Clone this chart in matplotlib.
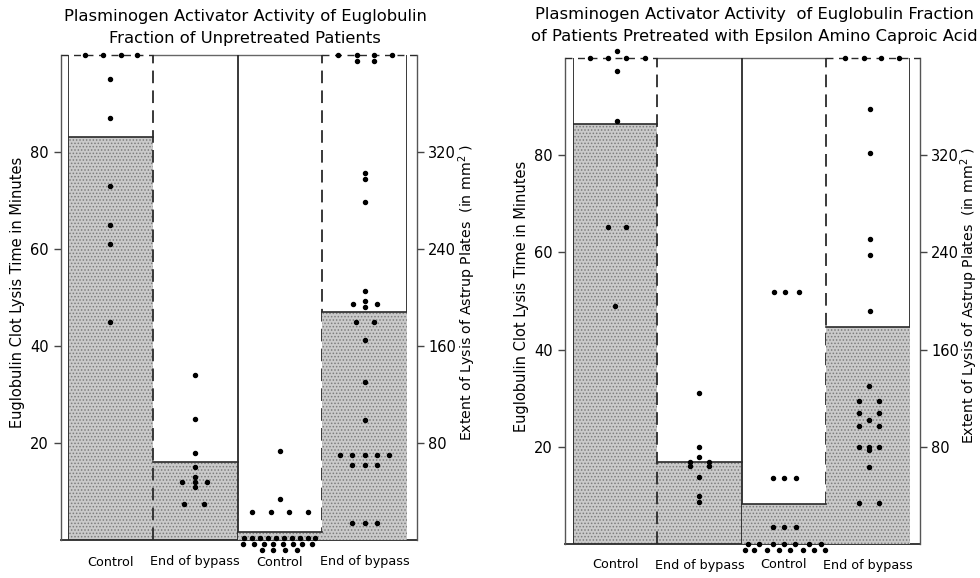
import matplotlib
matplotlib.use("Agg")
import matplotlib.pyplot as plt

plt.rcParams['font.family'] = ['DejaVu Sans']
plt.rcParams['hatch.linewidth'] = 0.7

# ---- data -------------------------------------------------------------
group_labels = ["Control", "End of bypass", "Control", "End of bypass"]

# left panel: unpretreated patients
left_title = ["Plasminogen Activator Activity of Euglobulin",
              "Fraction of Unpretreated Patients"]
left_lysis_time_means = [83, 16]          # minutes (left axis)
left_lysis_area_means = [6.6, 188]        # mm^2 (right axis)

left_ctrl_time_x = [-0.30, -0.09, 0.13, 0.32, 0.0, 0.0, 0.0, 0.0, 0.0, 0.0]
left_ctrl_time_y = [100, 100, 100, 100, 95, 87, 73, 65, 61, 45]
left_eob_time_x = [0.0, 0.0, 0.0, 0.0, 0.0, -0.15, 0.0, 0.14, 0.0, -0.13, 0.1]
left_eob_time_y = [34, 25, 18, 15, 13, 12, 12, 12, 11, 7.5, 7.5]
left_ctrl_area_x = [0.0, 0.0, -0.33, -0.11, 0.11, 0.33,
                    -0.42, -0.33, -0.24, -0.14, -0.05, 0.05, 0.14, 0.24, 0.33, 0.42,
                    -0.43, -0.30, -0.19, -0.08, 0.04, 0.15, 0.26, 0.38,
                    -0.21, -0.08, 0.06, 0.20]
left_ctrl_area_y = [73, 34, 23, 23, 23, 23,
                    2, 2, 2, 2, 2, 2, 2, 2, 2, 2,
                    -3, -3, -3, -3, -3, -3, -3, -3,
                    -8, -8, -8, -8]
left_eob_area_x = [-0.31, -0.09, -0.09, 0.11, 0.11, 0.32,
                   0.0, 0.0, 0.0, 0.0, -0.14, 0.0, 0.0, 0.15, -0.10, 0.11,
                   0.0, 0.0, 0.0, -0.29, -0.15, 0.0, 0.15, 0.29,
                   -0.15, 0.0, 0.15, -0.15, 0.0, 0.15]
left_eob_area_y = [400, 400, 395, 400, 395, 400,
                   303, 298, 279, 205, 195, 197, 192, 195, 180, 180,
                   165, 130, 99, 70, 70, 70, 70, 70,
                   62, 62, 62, 14, 14, 14]

# right panel: patients pretreated with EACA
right_title = ["Plasminogen Activator Activity  of Euglobulin Fraction",
               "of Patients Pretreated with Epsilon Amino Caproic Acid"]
right_lysis_time_means = [86.4, 16.9]
right_lysis_area_means = [33, 179]

right_ctrl_time_x = [-0.30, -0.08, 0.13, 0.35, 0.02, 0.02, 0.02, -0.08, 0.13, 0.0]
right_ctrl_time_y = [100, 100, 100, 100, 101.5, 97.3, 87, 65.2, 65.2, 49]
right_eob_time_x = [0.0, 0.0, 0.0, -0.11, -0.11, 0.11, 0.11, 0.0, 0.0, 0.0]
right_eob_time_y = [31, 20, 18, 16.9, 16.0, 16.9, 16.0, 13.8, 9.9, 8.7]
right_ctrl_area_x = [-0.11, 0.02, 0.18, -0.13, 0.01, 0.15, -0.13, 0.01, 0.15,
                     -0.42, -0.29, -0.13, 0.01, 0.14, 0.30, 0.44,
                     -0.46, -0.35, -0.20, -0.06, 0.08, 0.23, 0.36, 0.49]
right_ctrl_area_y = [207, 207, 207, 54, 54, 54, 14, 14, 14,
                     0, 0, 0, 0, 0, 0, 0,
                     -5, -5, -5, -5, -5, -5, -5, -5]
right_eob_area_x = [-0.27, -0.05, 0.15, 0.37,
                    0.03, 0.03, 0.03, 0.03, 0.03, 0.01, -0.10, 0.13, -0.10, 0.13,
                    0.01, -0.10, 0.13, -0.10, 0.01, 0.01, 0.13, 0.01, -0.10, 0.13]
right_eob_area_y = [400, 400, 400, 400,
                    358, 322, 251, 238, 192, 130, 118, 118, 108, 108,
                    102, 97, 97, 80, 80, 77, 80, 63, 34, 34]

time_ticks = [20, 40, 60, 80]
area_ticks = [80, 160, 240, 320]
time_label = "Euglobulin Clot Lysis Time in Minutes"
area_label = "Extent of Lysis of Astrup Plates  (in mm$^2$ )"

# ---- drawing ----------------------------------------------------------
W, H = 980, 578
fig = plt.figure(figsize=(W / 100, H / 100), dpi=100)

LINE = '#2a2a2a'
FILL = '#cacaca'
HATCH = '#7c7c7c'


def px_box(x0, x1, ytop, ybot):
    return [x0 / W, 1 - ybot / H, (x1 - x0) / W, (ybot - ytop) / H]


def panel(box, titles, title_x, title_y, time_means, area_means,
          time_pts, area_pts, ylab_x, rlab_x, xlab_y, lo_px, ro_px):
    ax = fig.add_axes(px_box(*box))
    ax2 = ax.twinx()
    width_px = box[1] - box[0]
    for a in (ax, ax2):
        a.set_xlim(0, 4)
        a.patch.set_visible(False)
        for s in a.spines.values():
            s.set_visible(False)
    ax.set_ylim(0, 100)
    ax2.set_ylim(0, 400)

    # stippled bars
    for i, v in enumerate(time_means):
        ax.bar(i + 0.5, v, width=1.0, color=FILL, edgecolor=HATCH,
               linewidth=0, hatch='.....', zorder=1)
        ax.plot([i, i + 1], [v, v], color=LINE, lw=1.2, zorder=2)
    for i, v in enumerate(area_means):
        ax2.bar(i + 2.5, v, width=1.0, color=FILL, edgecolor=HATCH,
                linewidth=0, hatch='.....', zorder=1)
        ax2.plot([i + 2, i + 3], [v, v], color=LINE, lw=1.2, zorder=2)

    # column separators
    for x, ls in zip([0, 1, 2, 3, 4], ['-', (0, (7, 4)), '-', (0, (7, 4)), '-']):
        ax.axvline(x, color=LINE, lw=1.3, ls=ls, zorder=3)

    # outer frame with offset axis lines
    lo = -lo_px / width_px
    ro = 1 + ro_px / width_px
    tr = ax.transAxes
    ax.plot([lo, ro], [0, 0], color=LINE, lw=1.3, transform=tr, clip_on=False)
    ax.plot([lo, lo], [0, 1], color='#555555', lw=1.0, transform=tr, clip_on=False)
    ax.plot([ro, ro], [0, 1], color='#555555', lw=1.0, transform=tr, clip_on=False)
    ax.plot([lo, 0.25], [1, 1], color=LINE, lw=1.0, ls=(0, (5, 4)),
            transform=tr, clip_on=False)
    ax.plot([0.25, 0.75], [1, 1], color='#666666', lw=1.0, transform=tr, clip_on=False)
    ax.plot([0.75, ro], [1, 1], color=LINE, lw=1.0, ls=(0, (5, 4)),
            transform=tr, clip_on=False)

    # ticks on the offset axis lines
    ax.set_xticks([])
    ax2.set_xticks([])
    ax.yaxis.set_ticks_position('left')
    ax2.yaxis.set_ticks_position('right')
    ax.spines['left'].set_position(('outward', lo_px * 0.72))
    ax2.spines['right'].set_position(('outward', ro_px * 0.72))
    ax.set_yticks(time_ticks)
    ax.set_yticklabels([str(t) for t in time_ticks])
    ax2.set_yticks(area_ticks)
    ax2.set_yticklabels([str(t) for t in area_ticks])
    ax.tick_params(axis='y', direction='out', length=5, width=1.0,
                   color='#444444', labelsize=10.5, pad=4)
    ax2.tick_params(axis='y', direction='out', length=5, width=1.0,
                    color='#444444', labelsize=10.5, pad=3)

    # individual patients
    kw = dict(ls='none', marker='o', ms=2.9, color='black', clip_on=False, zorder=5)
    for col, (xs, ys) in enumerate(time_pts):
        ax.plot([col + 0.5 + x for x in xs], ys, **kw)
    for col, (xs, ys) in enumerate(area_pts):
        ax2.plot([col + 2.5 + x for x in xs], ys, **kw)

    # text
    fig.text(title_x / W, 1 - title_y[0] / H, titles[0], ha='center',
             va='center', fontsize=11.8)
    fig.text(title_x / W, 1 - title_y[1] / H, titles[1], ha='center',
             va='center', fontsize=11.8)
    mid_y = (box[2] + box[3]) / 2
    fig.text(ylab_x / W, 1 - (mid_y - 5) / H, time_label, rotation=90,
             ha='center', va='center', fontsize=10.5)
    fig.text(rlab_x / W, 1 - (mid_y - 5) / H, area_label, rotation=90,
             ha='center', va='center', fontsize=10.2)
    for i, lab in enumerate(group_labels):
        xc = box[0] + (i + 0.5) * width_px / 4
        fig.text(xc / W, 1 - xlab_y / H, lab, ha='center', va='center',
                 fontsize=9.2)


panel((68, 407, 55, 540), left_title, 245, (16, 38),
      left_lysis_time_means, left_lysis_area_means,
      [(left_ctrl_time_x, left_ctrl_time_y), (left_eob_time_x, left_eob_time_y)],
      [(left_ctrl_area_x, left_ctrl_area_y), (left_eob_area_x, left_eob_area_y)],
      18, 467, 562, 7, 10)

panel((573, 910, 58, 544), right_title, 754, (15, 37),
      right_lysis_time_means, right_lysis_area_means,
      [(right_ctrl_time_x, right_ctrl_time_y), (right_eob_time_x, right_eob_time_y)],
      [(right_ctrl_area_x, right_ctrl_area_y), (right_eob_area_x, right_eob_area_y)],
      521, 969, 565, 8, 10)

fig.savefig("out.png", dpi=100, facecolor='white')
